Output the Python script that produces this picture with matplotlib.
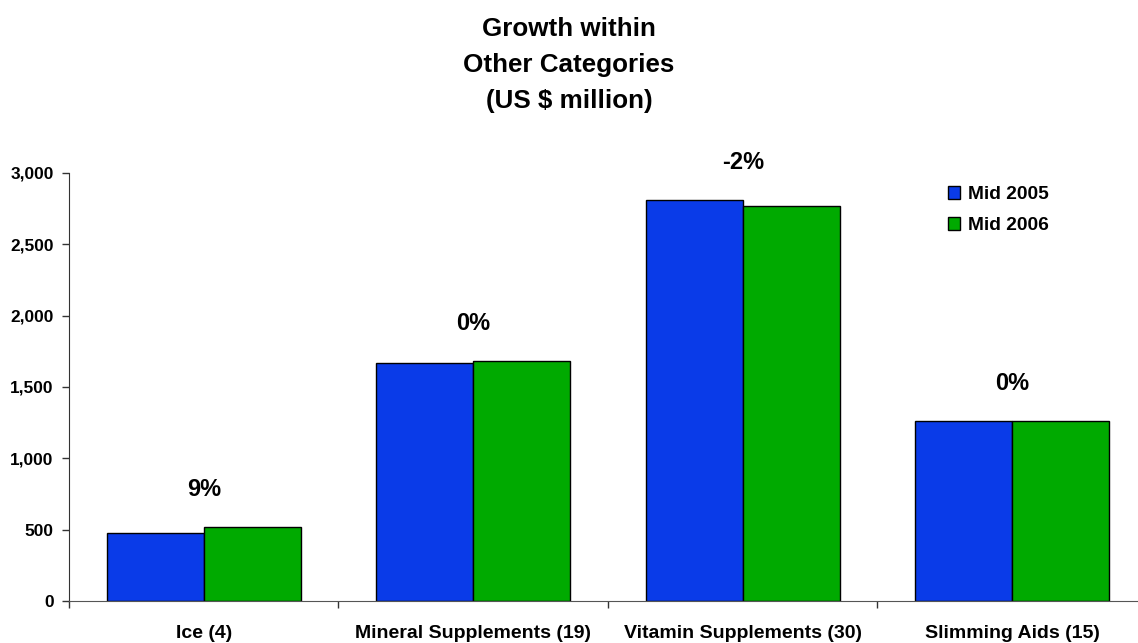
import numpy as np
import matplotlib
matplotlib.use("Agg")
import matplotlib.pyplot as plt

plt.rcParams['font.family'] = ['Liberation Sans', 'DejaVu Sans']
plt.rcParams['font.weight'] = 'bold'

# category sizes in US $ million
categories = ["Ice (4)", "Mineral Supplements (19)",
              "Vitamin Supplements (30)", "Slimming Aids (15)"]
mid_2005 = [478, 1670, 2811, 1264]
mid_2006 = [521, 1680, 2767, 1264]
growth = ["9%", "0%", "-2%", "0%"]
series_names = ["Mid 2005", "Mid 2006"]
yticks = [0, 500, 1000, 1500, 2000, 2500, 3000]

blue = "#0a3be8"
green = "#00aa00"

fig = plt.figure(figsize=(11.38, 6.43), dpi=100)
# axes runs a little past the right edge, last category is cut off
ax = fig.add_axes([0.0606, 0.0653, 0.9473, 0.6657])

x = np.arange(len(categories))
w = 0.36
ax.bar(x - w / 2, mid_2005, w, color=blue, edgecolor="black", linewidth=1,
       label=series_names[0])
ax.bar(x + w / 2, mid_2006, w, color=green, edgecolor="black", linewidth=1,
       label=series_names[1])

for i, g in enumerate(growth):
    top = max(mid_2005[i], mid_2006[i])
    ax.annotate(g, (x[i], top), xytext=(0, 27), textcoords="offset points",
                ha="center", va="center", fontsize=17, fontweight="bold")

ax.set_xlim(-0.5, len(categories) - 0.5)
ax.set_ylim(0, 3000)
ax.set_yticks(yticks)
ax.set_yticklabels(["{:,}".format(v) for v in yticks], fontsize=12.4)
ax.tick_params(axis="y", length=5, width=1, color="#333333", pad=6)

ax.set_xticks(x)
ax.set_xticklabels(categories, fontsize=14)
ax.set_xticks(np.arange(len(categories) + 1) - 0.5, minor=True)
ax.tick_params(axis="x", which="major", length=0, pad=17)
ax.tick_params(axis="x", which="minor", length=5, width=1, color="#333333")

for s in ["top", "right"]:
    ax.spines[s].set_visible(False)
ax.spines["left"].set_color("#333333")
ax.spines["bottom"].set_color("#555555")

fig.legend(loc="upper left", bbox_to_anchor=(948 / 1138, 1 - 186 / 643),
           frameon=False, borderpad=0, borderaxespad=0, fontsize=13.8,
           handlelength=0.65, handleheight=0.65, handletextpad=0.4,
           labelspacing=0.72)

fig.text(0.5, 1 - 65 / 643, "Growth within\nOther Categories\n(US $ million)",
         ha="center", va="center", fontsize=18.7, fontweight="bold",
         linespacing=1.64)

fig.savefig("out.png", dpi=100)
